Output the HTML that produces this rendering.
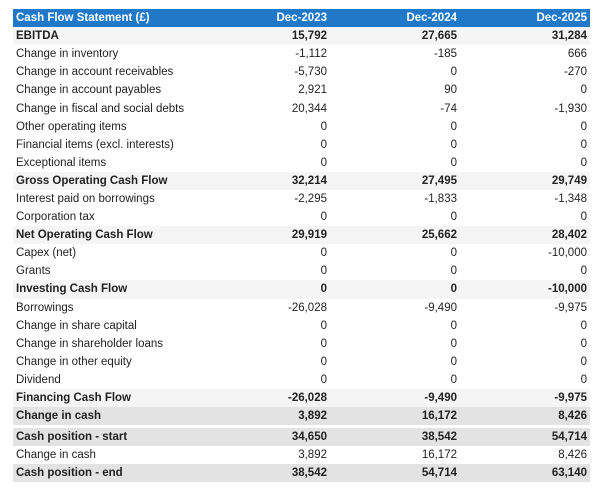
<!DOCTYPE html>
<html><head><style>
body{margin:0;background:#fff;width:600px;height:496px;overflow:hidden;font-family:"Liberation Sans",Arial,sans-serif;}
table{position:absolute;left:13px;top:9px;width:577px;border-collapse:collapse;font-size:11.5px;color:#222;}
td{height:18.1px;padding:0 3px;white-space:nowrap;line-height:18px;}
td.n{text-align:right;}
tr.h td{background:#1f78c8;color:#fff;font-weight:bold;}
tr.b td{background:#f5f5f5;font-weight:bold;}
tr.g td{background:#e3e3e3;font-weight:bold;}
tr.sp td{height:3px;line-height:3px;}
</style></head><body>
<table>
<colgroup><col style="width:187px"><col style="width:130px"><col style="width:130px"><col style="width:130px"></colgroup>
<tr class="h"><td>Cash Flow Statement (£)</td><td class="n">Dec-2023</td><td class="n">Dec-2024</td><td class="n">Dec-2025</td></tr>
<tr class="b"><td>EBITDA</td><td class="n">15,792</td><td class="n">27,665</td><td class="n">31,284</td></tr>
<tr><td>Change in inventory</td><td class="n">-1,112</td><td class="n">-185</td><td class="n">666</td></tr>
<tr><td>Change in account receivables</td><td class="n">-5,730</td><td class="n">0</td><td class="n">-270</td></tr>
<tr><td>Change in account payables</td><td class="n">2,921</td><td class="n">90</td><td class="n">0</td></tr>
<tr><td>Change in fiscal and social debts</td><td class="n">20,344</td><td class="n">-74</td><td class="n">-1,930</td></tr>
<tr><td>Other operating items</td><td class="n">0</td><td class="n">0</td><td class="n">0</td></tr>
<tr><td>Financial items (excl. interests)</td><td class="n">0</td><td class="n">0</td><td class="n">0</td></tr>
<tr><td>Exceptional items</td><td class="n">0</td><td class="n">0</td><td class="n">0</td></tr>
<tr class="b"><td>Gross Operating Cash Flow</td><td class="n">32,214</td><td class="n">27,495</td><td class="n">29,749</td></tr>
<tr><td>Interest paid on borrowings</td><td class="n">-2,295</td><td class="n">-1,833</td><td class="n">-1,348</td></tr>
<tr><td>Corporation tax</td><td class="n">0</td><td class="n">0</td><td class="n">0</td></tr>
<tr class="b"><td>Net Operating Cash Flow</td><td class="n">29,919</td><td class="n">25,662</td><td class="n">28,402</td></tr>
<tr><td>Capex (net)</td><td class="n">0</td><td class="n">0</td><td class="n">-10,000</td></tr>
<tr><td>Grants</td><td class="n">0</td><td class="n">0</td><td class="n">0</td></tr>
<tr class="b"><td>Investing Cash Flow</td><td class="n">0</td><td class="n">0</td><td class="n">-10,000</td></tr>
<tr><td>Borrowings</td><td class="n">-26,028</td><td class="n">-9,490</td><td class="n">-9,975</td></tr>
<tr><td>Change in share capital</td><td class="n">0</td><td class="n">0</td><td class="n">0</td></tr>
<tr><td>Change in shareholder loans</td><td class="n">0</td><td class="n">0</td><td class="n">0</td></tr>
<tr><td>Change in other equity</td><td class="n">0</td><td class="n">0</td><td class="n">0</td></tr>
<tr><td>Dividend</td><td class="n">0</td><td class="n">0</td><td class="n">0</td></tr>
<tr class="b"><td>Financing Cash Flow</td><td class="n">-26,028</td><td class="n">-9,490</td><td class="n">-9,975</td></tr>
<tr class="g"><td>Change in cash</td><td class="n">3,892</td><td class="n">16,172</td><td class="n">8,426</td></tr>
<tr class="sp"><td></td><td></td><td></td><td></td></tr>
<tr class="g"><td>Cash position - start</td><td class="n">34,650</td><td class="n">38,542</td><td class="n">54,714</td></tr>
<tr><td>Change in cash</td><td class="n">3,892</td><td class="n">16,172</td><td class="n">8,426</td></tr>
<tr class="g"><td>Cash position - end</td><td class="n">38,542</td><td class="n">54,714</td><td class="n">63,140</td></tr>
</table>
</body></html>
